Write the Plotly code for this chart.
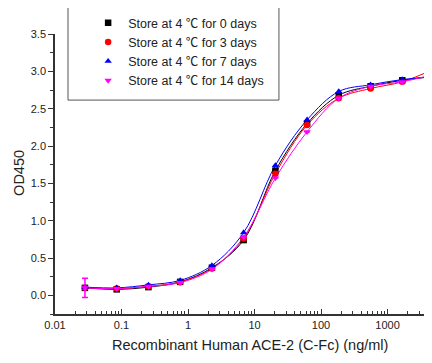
import plotly.graph_objects as go

conc = [0.0282, 0.0847, 0.254, 0.762, 2.29, 6.86, 20.6, 61.7, 185, 556, 1667, 5000]

day0 = [0.10, 0.08, 0.11, 0.18, 0.37, 0.74, 1.67, 2.30, 2.68, 2.80, 2.88, 2.93]
day3 = [0.10, 0.09, 0.12, 0.18, 0.36, 0.76, 1.63, 2.28, 2.64, 2.77, 2.86, 3.03]
day7 = [0.11, 0.10, 0.14, 0.20, 0.40, 0.84, 1.74, 2.35, 2.73, 2.82, 2.89, 2.93]
day14 = [0.10, 0.09, 0.12, 0.17, 0.35, 0.78, 1.57, 2.19, 2.64, 2.80, 2.86, 2.96]
day14_err = [0.13, 0, 0, 0, 0, 0, 0, 0, 0, 0, 0, 0]

DEG = "<span style='font-family:\"Noto Sans CJK SC\"'>\u2103</span>"
names = ["Store at 4 %s for 0 days" % DEG, "Store at 4 %s for 3 days" % DEG,
         "Store at 4 %s for 7 days" % DEG, "Store at 4 %s for 14 days" % DEG]
series = [day0, day3, day7, day14]
colors = ["#000000", "#ff0000", "#0000ff", "#ff00ff"]
symbols = ["square", "circle", "triangle-up", "triangle-down"]

x_tickvals = [0.01, 0.1, 1, 10, 100, 1000]
x_ticktext = ["0.01", "0.1", "1", "10", "100", "1000"]
y_tickvals = [0, 0.5, 1, 1.5, 2, 2.5, 3, 3.5]
y_ticktext = ["0.0", "0.5", "1.0", "1.5", "2.0", "2.5", "3.0", "3.5"]
x_title = "Recombinant Human ACE-2 (C-Fc) (ng/ml)"
y_title = "OD450"

fig = go.Figure()
# smooth curves (no legend)
for i, ys in enumerate(series):
    fig.add_trace(go.Scatter(
        x=conc, y=ys, mode="lines", showlegend=False, hoverinfo="skip",
        line=dict(color=colors[i], width=1, shape="spline"), cliponaxis=True))
# markers (legend)
for i, (nm, ys) in enumerate(zip(names, series)):
    kw = {}
    if i == 3:
        kw["error_y"] = dict(type="data", array=day14_err, color=colors[i], thickness=1.5, width=3)
    fig.add_trace(go.Scatter(
        x=conc, y=ys, name=nm, mode="markers", cliponaxis=False,
        marker=dict(symbol=symbols[i], color=colors[i], size=6.5),
        **kw))

FONT = "Liberation Sans, Arial, sans-serif"
TITLE_FONT = dict(family=FONT, size=14.5, color="#222")

# page body has an 8px margin: the figure is sized to fill the rest of the window
fig.update_layout(
    width=424, height=355,
    margin=dict(l=47, r=0, t=26, b=49, autoexpand=False),
    plot_bgcolor="white", paper_bgcolor="white",
    font=dict(family=FONT, size=11, color="#222"),
    showlegend=True,
    legend=dict(xref="container", yref="container", x=0.189, y=1.0,
                xanchor="left", yanchor="top",
                bgcolor="rgba(0,0,0,0)", borderwidth=0,
                font=dict(family=FONT, size=12.5, color="#222"),
                tracegroupgap=0),
    shapes=[dict(type="rect", xref="paper", yref="paper",
                 x0=0.0345, x1=0.594, y0=0.764, y1=1.096,
                 line=dict(color="#555", width=1), fillcolor="rgba(0,0,0,0)",
                 layer="above")],
    annotations=[
        dict(text=x_title, xref="paper", yref="paper", x=0.517, y=-0.111,
             xanchor="center", yanchor="middle", showarrow=False, font=TITLE_FONT),
        dict(text=y_title, xref="paper", yref="paper", x=-0.0955, y=0.504,
             xanchor="center", yanchor="middle", showarrow=False, textangle=-90,
             font=TITLE_FONT),
    ],
)

fig.update_xaxes(
    type="log", range=[-2, 3.669],
    tickvals=x_tickvals, ticktext=x_ticktext,
    ticks="inside", ticklen=5, tickwidth=1, tickcolor="#333",
    minor=dict(ticks="inside", ticklen=3, dtick="D1", tickcolor="#333", showgrid=False),
    showline=True, linecolor="#333", linewidth=1.5,
    showgrid=False, zeroline=False,
    tickfont=dict(family=FONT, size=11, color="#222"),
)
fig.update_yaxes(
    range=[-0.25, 3.5],
    tickvals=y_tickvals, ticktext=y_ticktext,
    ticks="outside", ticklen=5, tickwidth=1, tickcolor="#333",
    minor=dict(ticks="outside", ticklen=3, dtick=0.25, tick0=0, tickcolor="#333", showgrid=False),
    showline=True, linecolor="#333", linewidth=1.5,
    showgrid=False, zeroline=False,
    tickfont=dict(family=FONT, size=11, color="#222"),
)

fig.write_html("out.html")
